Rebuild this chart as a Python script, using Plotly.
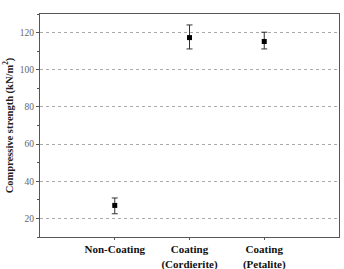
import plotly.graph_objects as go

categories = ["Non-Coating", "Coating<br>(Cordierite)", "Coating<br>(Petalite)"]
positions = [0, 1, 2]
values = [27.0, 117.3, 115.2]
err_plus = [4.0, 6.8, 5.0]
err_minus = [4.5, 6.1, 4.0]
y_ticks = [20, 40, 60, 80, 100, 120]

fig = go.Figure()
fig.add_trace(go.Scatter(
    x=positions, y=values, mode="markers",
    marker=dict(symbol="square", size=5, color="black"),
    error_y=dict(type="data", symmetric=False, array=err_plus, arrayminus=err_minus,
                 color="#333333", thickness=1, width=3),
    showlegend=False,
))

fig.update_layout(
    width=344, height=269,
    margin=dict(l=40, r=5, t=14, b=32),
    paper_bgcolor="white", plot_bgcolor="white",
    font=dict(family="Liberation Serif", color="#555555"),
    xaxis=dict(
        range=[-1, 3], tickvals=positions, ticktext=categories,
        showgrid=False, zeroline=False, automargin=False,
        showline=True, linecolor="#555555", linewidth=1, mirror=True,
        ticks="outside", ticklen=2, tickcolor="#555555",
        tickfont=dict(family="Liberation Serif", size=11, color="#111111", weight="bold"),
    ),
    yaxis=dict(
        range=[10, 130], tickvals=y_ticks, automargin=False,
        showgrid=True, gridcolor="#aaaaaa", griddash="dot", gridwidth=1,
        zeroline=False,
        showline=True, linecolor="#555555", linewidth=1, mirror=True,
        ticks="outside", ticklen=3, tickcolor="#555555",
        minor=dict(dtick=10, ticks="outside", ticklen=2, tickcolor="#555555", showgrid=False),
        tickfont=dict(family="Liberation Serif", size=9.5, color="#666666"),
        title=dict(text="Compressive strength (kN/m<sup>2</sup>)", standoff=4,
                   font=dict(family="Liberation Serif", size=10.5, color="#222222", weight="bold")),
    ),
)

fig.write_html("out.html")
